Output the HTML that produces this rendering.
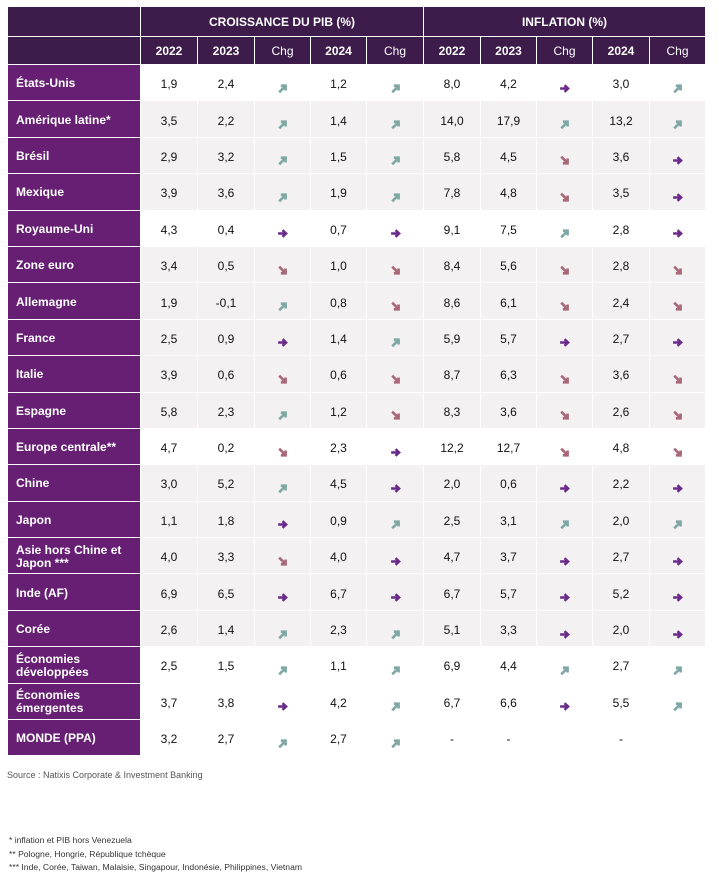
<!DOCTYPE html>
<html><head><meta charset="utf-8">
<style>
html,body{margin:0;padding:0;background:#fff;width:719px;height:878px;overflow:hidden;font-family:"Liberation Sans",sans-serif;}
table{position:absolute;left:7px;top:6px;border-collapse:collapse;table-layout:fixed;}
td,th{border:1px solid #fff;padding:0;text-align:center;font-size:12px;color:#111;}
th{background:#3d1c4b;color:#fff;font-weight:bold;}
tr.h1 th{height:29px;}
tr.h2 th{height:27px;}
tbody td{height:36.4px;padding-top:3px;box-sizing:border-box;vertical-align:middle;}
td.l{background:#661f73;color:#fff;font-weight:bold;text-align:left;padding-left:8px;padding-top:2px;line-height:13px;font-size:12px;}
tr.g td{background:#f3f1f2;}
tr.g td.l{background:#661f73;}
svg.a{width:11px;height:11px;vertical-align:-8px;}
.src{position:absolute;left:7px;top:770px;font-size:9px;color:#555;}
.fn{position:absolute;left:9px;top:834px;font-size:8.6px;color:#333;line-height:13.5px;}
</style></head><body>
<svg width="0" height="0" style="position:absolute">
<defs>
<symbol id="u" viewBox="0 0 10 10"><path d="M2 8.5 L7 3.5 M3.5 2.5 H7.8 V6.8" stroke="#7fa8a4" stroke-width="2.4" fill="none"/></symbol>
<symbol id="r" viewBox="0 0 10 10"><path d="M1 5 H8 M5 2 L8.3 5 L5 8" stroke="#6a2a8a" stroke-width="2.2" fill="none"/></symbol>
<symbol id="d" viewBox="0 0 10 10"><path d="M2 1.5 L7 6.5 M3.5 7.5 H7.8 V3.2" stroke="#a86878" stroke-width="2.4" fill="none"/></symbol>
</defs></svg>
<table>
<colgroup><col style="width:133px"><col style="width:57px"><col style="width:57px"><col style="width:56px"><col style="width:56px"><col style="width:57px"><col style="width:57px"><col style="width:56px"><col style="width:56px"><col style="width:57px"><col style="width:56px"></colgroup>
<thead>
<tr class="h1"><th></th><th colspan="5">CROISSANCE DU PIB (%)</th><th colspan="5">INFLATION (%)</th></tr>
<tr class="h2"><th></th><th>2022</th><th>2023</th><th style="font-weight:normal">Chg</th><th>2024</th><th style="font-weight:normal">Chg</th><th>2022</th><th>2023</th><th style="font-weight:normal">Chg</th><th>2024</th><th style="font-weight:normal">Chg</th></tr>
</thead>
<tbody>
<tr><td class="l">États-Unis</td><td>1,9</td><td>2,4</td><td><svg class="a"><use href="#u"/></svg></td><td>1,2</td><td><svg class="a"><use href="#u"/></svg></td><td>8,0</td><td>4,2</td><td><svg class="a"><use href="#r"/></svg></td><td>3,0</td><td><svg class="a"><use href="#u"/></svg></td></tr>
<tr class="g"><td class="l">Amérique latine*</td><td>3,5</td><td>2,2</td><td><svg class="a"><use href="#u"/></svg></td><td>1,4</td><td><svg class="a"><use href="#u"/></svg></td><td>14,0</td><td>17,9</td><td><svg class="a"><use href="#u"/></svg></td><td>13,2</td><td><svg class="a"><use href="#u"/></svg></td></tr>
<tr class="g"><td class="l">Brésil</td><td>2,9</td><td>3,2</td><td><svg class="a"><use href="#u"/></svg></td><td>1,5</td><td><svg class="a"><use href="#u"/></svg></td><td>5,8</td><td>4,5</td><td><svg class="a"><use href="#d"/></svg></td><td>3,6</td><td><svg class="a"><use href="#r"/></svg></td></tr>
<tr class="g"><td class="l">Mexique</td><td>3,9</td><td>3,6</td><td><svg class="a"><use href="#u"/></svg></td><td>1,9</td><td><svg class="a"><use href="#u"/></svg></td><td>7,8</td><td>4,8</td><td><svg class="a"><use href="#d"/></svg></td><td>3,5</td><td><svg class="a"><use href="#r"/></svg></td></tr>
<tr><td class="l">Royaume-Uni</td><td>4,3</td><td>0,4</td><td><svg class="a"><use href="#r"/></svg></td><td>0,7</td><td><svg class="a"><use href="#r"/></svg></td><td>9,1</td><td>7,5</td><td><svg class="a"><use href="#u"/></svg></td><td>2,8</td><td><svg class="a"><use href="#r"/></svg></td></tr>
<tr class="g"><td class="l">Zone euro</td><td>3,4</td><td>0,5</td><td><svg class="a"><use href="#d"/></svg></td><td>1,0</td><td><svg class="a"><use href="#d"/></svg></td><td>8,4</td><td>5,6</td><td><svg class="a"><use href="#d"/></svg></td><td>2,8</td><td><svg class="a"><use href="#d"/></svg></td></tr>
<tr class="g"><td class="l">Allemagne</td><td>1,9</td><td>-0,1</td><td><svg class="a"><use href="#u"/></svg></td><td>0,8</td><td><svg class="a"><use href="#d"/></svg></td><td>8,6</td><td>6,1</td><td><svg class="a"><use href="#d"/></svg></td><td>2,4</td><td><svg class="a"><use href="#d"/></svg></td></tr>
<tr class="g"><td class="l">France</td><td>2,5</td><td>0,9</td><td><svg class="a"><use href="#r"/></svg></td><td>1,4</td><td><svg class="a"><use href="#u"/></svg></td><td>5,9</td><td>5,7</td><td><svg class="a"><use href="#r"/></svg></td><td>2,7</td><td><svg class="a"><use href="#r"/></svg></td></tr>
<tr class="g"><td class="l">Italie</td><td>3,9</td><td>0,6</td><td><svg class="a"><use href="#d"/></svg></td><td>0,6</td><td><svg class="a"><use href="#d"/></svg></td><td>8,7</td><td>6,3</td><td><svg class="a"><use href="#d"/></svg></td><td>3,6</td><td><svg class="a"><use href="#d"/></svg></td></tr>
<tr class="g"><td class="l">Espagne</td><td>5,8</td><td>2,3</td><td><svg class="a"><use href="#u"/></svg></td><td>1,2</td><td><svg class="a"><use href="#d"/></svg></td><td>8,3</td><td>3,6</td><td><svg class="a"><use href="#d"/></svg></td><td>2,6</td><td><svg class="a"><use href="#d"/></svg></td></tr>
<tr><td class="l">Europe centrale**</td><td>4,7</td><td>0,2</td><td><svg class="a"><use href="#d"/></svg></td><td>2,3</td><td><svg class="a"><use href="#r"/></svg></td><td>12,2</td><td>12,7</td><td><svg class="a"><use href="#d"/></svg></td><td>4,8</td><td><svg class="a"><use href="#d"/></svg></td></tr>
<tr class="g"><td class="l">Chine</td><td>3,0</td><td>5,2</td><td><svg class="a"><use href="#u"/></svg></td><td>4,5</td><td><svg class="a"><use href="#r"/></svg></td><td>2,0</td><td>0,6</td><td><svg class="a"><use href="#r"/></svg></td><td>2,2</td><td><svg class="a"><use href="#r"/></svg></td></tr>
<tr class="g"><td class="l">Japon</td><td>1,1</td><td>1,8</td><td><svg class="a"><use href="#r"/></svg></td><td>0,9</td><td><svg class="a"><use href="#u"/></svg></td><td>2,5</td><td>3,1</td><td><svg class="a"><use href="#u"/></svg></td><td>2,0</td><td><svg class="a"><use href="#u"/></svg></td></tr>
<tr class="g"><td class="l">Asie hors Chine et<br>Japon ***</td><td>4,0</td><td>3,3</td><td><svg class="a"><use href="#d"/></svg></td><td>4,0</td><td><svg class="a"><use href="#r"/></svg></td><td>4,7</td><td>3,7</td><td><svg class="a"><use href="#r"/></svg></td><td>2,7</td><td><svg class="a"><use href="#r"/></svg></td></tr>
<tr class="g"><td class="l">Inde (AF)</td><td>6,9</td><td>6,5</td><td><svg class="a"><use href="#r"/></svg></td><td>6,7</td><td><svg class="a"><use href="#r"/></svg></td><td>6,7</td><td>5,7</td><td><svg class="a"><use href="#r"/></svg></td><td>5,2</td><td><svg class="a"><use href="#r"/></svg></td></tr>
<tr class="g"><td class="l">Corée</td><td>2,6</td><td>1,4</td><td><svg class="a"><use href="#u"/></svg></td><td>2,3</td><td><svg class="a"><use href="#u"/></svg></td><td>5,1</td><td>3,3</td><td><svg class="a"><use href="#r"/></svg></td><td>2,0</td><td><svg class="a"><use href="#r"/></svg></td></tr>
<tr><td class="l">Économies<br>développées</td><td>2,5</td><td>1,5</td><td><svg class="a"><use href="#u"/></svg></td><td>1,1</td><td><svg class="a"><use href="#u"/></svg></td><td>6,9</td><td>4,4</td><td><svg class="a"><use href="#u"/></svg></td><td>2,7</td><td><svg class="a"><use href="#u"/></svg></td></tr>
<tr><td class="l">Économies<br>émergentes</td><td>3,7</td><td>3,8</td><td><svg class="a"><use href="#r"/></svg></td><td>4,2</td><td><svg class="a"><use href="#u"/></svg></td><td>6,7</td><td>6,6</td><td><svg class="a"><use href="#r"/></svg></td><td>5,5</td><td><svg class="a"><use href="#u"/></svg></td></tr>
<tr><td class="l">MONDE (PPA)</td><td>3,2</td><td>2,7</td><td><svg class="a"><use href="#u"/></svg></td><td>2,7</td><td><svg class="a"><use href="#u"/></svg></td><td>-</td><td>-</td><td></td><td>-</td><td></td></tr>
</tbody>
</table>
<div class="src">Source : Natixis Corporate &amp; Investment Banking</div>
<div class="fn">* inflation et PIB hors Venezuela<br>** Pologne, Hongrie, République tchèque<br>*** Inde, Corée, Taiwan, Malaisie, Singapour, Indonésie, Philippines, Vietnam</div>
</body></html>
